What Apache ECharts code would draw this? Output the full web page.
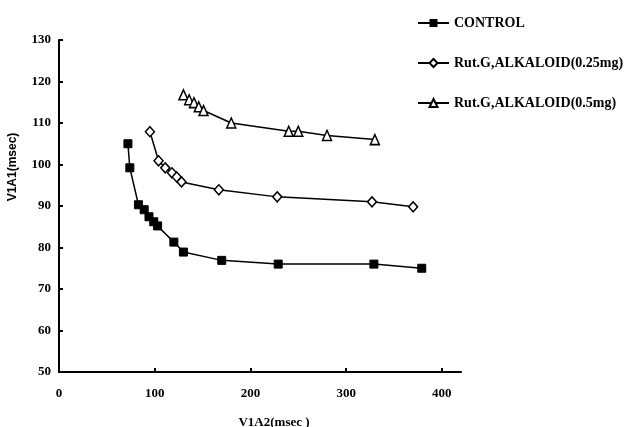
<!DOCTYPE html>
<html>
<head>
<meta charset="utf-8">
<script src="https://cdn.jsdelivr.net/npm/echarts@6/dist/echarts.min.js"></script>
<style>
  html, body { margin: 0; padding: 0; background: #fff; }
  #main { width: 639px; height: 427px; }
</style>
</head>
<body>
<div id="main"></div>
<script>
// values
var seriesNames = ['CONTROL', 'Rut.G,ALKALOID(0.25mg)', 'Rut.G,ALKALOID(0.5mg)']
var controlX = [72, 74, 83, 89, 94, 99, 103, 120, 130, 170, 229, 329, 379]
var controlY = [105, 99.2, 90.3, 89.1, 87.4, 86.2, 85.2, 81.3, 78.9, 76.9, 76, 76, 75]
var lowDoseX = [95, 104, 111, 118, 123, 128, 167, 228, 327, 370]
var lowDoseY = [107.9, 100.9, 99.2, 98, 97, 95.8, 93.9, 92.2, 91, 89.8]
var highDoseX = [130, 136, 141, 146, 151, 180, 240, 250, 280, 330]
var highDoseY = [116.8, 115.6, 114.9, 113.9, 113, 110, 108, 108, 107, 106]
var xTicks = [0, 100, 200, 300, 400]
var yTicks = [50, 60, 70, 80, 90, 100, 110, 120, 130]

function pairs (xs, ys) {
  return xs.map(function (x, i) { return [x, ys[i]] })
}

var serif = '"Liberation Serif", "Times New Roman", serif'
var chart = echarts.init(document.getElementById('main'))

chart.setOption({
  animation: false,
  backgroundColor: '#fff',
  grid: { left: 59, right: 178, top: 40, bottom: 55, outerBoundsMode: 'none', containLabel: false },
  legend: {
    orient: 'vertical',
    left: 417,
    top: 16,
    padding: 0,
    itemWidth: 31,
    itemHeight: 10,
    itemGap: 26,
    data: seriesNames,
    textStyle: { fontFamily: serif, fontWeight: 'bold', fontSize: 14, color: '#000' }
  },
  xAxis: {
    type: 'value',
    min: 0,
    max: 420,
    interval: 100,
    name: 'V1A2(msec )',
    nameLocation: 'middle',
    nameGap: 44,
    nameTextStyle: { fontFamily: serif, fontWeight: 'bold', fontSize: 13, color: '#000', padding: [0, 0, 0, 28] },
    splitLine: { show: false },
    axisLine: { lineStyle: { color: '#000', width: 2 } },
    axisTick: { inside: true, length: 4, customValues: xTicks, lineStyle: { color: '#000', width: 2 } },
    axisLabel: { customValues: xTicks, margin: 15, fontFamily: serif, fontWeight: 'bold', fontSize: 13, color: '#000' }
  },
  yAxis: {
    type: 'value',
    min: 50,
    max: 130,
    interval: 10,
    name: 'V1A1(msec)',
    nameLocation: 'middle',
    nameGap: 40,
    nameTextStyle: { fontFamily: '"Liberation Sans", Arial, sans-serif', fontWeight: 'bold', fontSize: 12, color: '#000', padding: [0, 0, 0, 78] },
    splitLine: { show: false },
    axisLine: { lineStyle: { color: '#000', width: 2 } },
    axisTick: { inside: true, length: 4, customValues: yTicks, lineStyle: { color: '#000', width: 2 } },
    axisLabel: { margin: 8, fontFamily: serif, fontWeight: 'bold', fontSize: 13, color: '#000' }
  },
  series: [
    {
      name: seriesNames[0],
      type: 'line',
      data: pairs(controlX, controlY),
      symbol: 'rect',
      symbolSize: 8,
      itemStyle: { color: '#000', borderColor: '#000' },
      lineStyle: { color: '#000', width: 1.5 }
    },
    {
      name: seriesNames[1],
      type: 'line',
      data: pairs(lowDoseX, lowDoseY),
      symbol: 'diamond',
      symbolSize: [9, 10],
      itemStyle: { color: '#fff', borderColor: '#000', borderWidth: 1.5 },
      lineStyle: { color: '#000', width: 1.5 }
    },
    {
      name: seriesNames[2],
      type: 'line',
      data: pairs(highDoseX, highDoseY),
      symbol: 'triangle',
      symbolSize: [9, 10],
      itemStyle: { color: '#fff', borderColor: '#000', borderWidth: 1.5 },
      lineStyle: { color: '#000', width: 1.5 }
    }
  ]
})
</script>
</body>
</html>
